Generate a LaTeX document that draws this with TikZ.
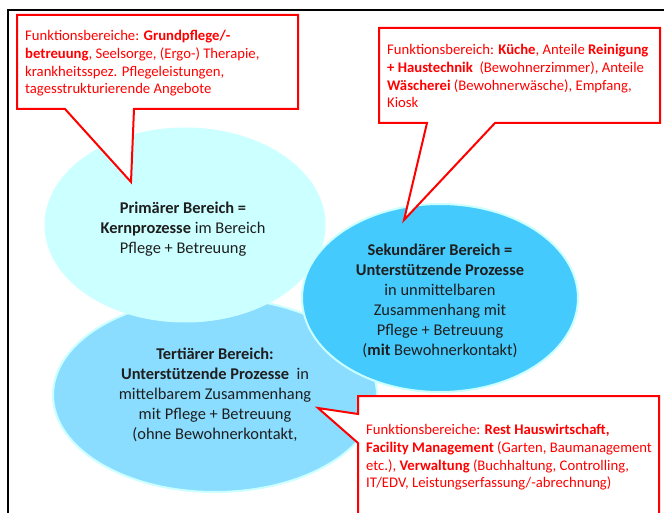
\documentclass[tikz,border=0pt]{standalone}
\usepackage{fontspec}
\setmainfont{Carlito}
\definecolor{primc}{HTML}{CCFFFF}
\definecolor{secc}{HTML}{45CAFD}
\definecolor{terc}{HTML}{8ADDFF}
\definecolor{rimc}{HTML}{CCFFFF}
\definecolor{txtc}{HTML}{1E1E1E}
\begin{document}
\begin{tikzpicture}[x=1pt,y=1pt,
  callout/.style={draw=red,line width=2pt,fill=white,line join=miter},
  ctext/.style={anchor=north west,inner sep=0pt,align=left,text=red,font={\fontsize{14.7}{17.8}\selectfont}},
  etext/.style={inner sep=0pt,align=center,text=txtc,font={\fontsize{16.4}{20}\selectfont}}]
\useasboundingbox (0,0) rectangle (664,512);
\fill[white] (0,0) rectangle (664,512);
% frame
\draw[black,line width=1.3pt] (8,-5) -- (8,502) -- (670,502);
% ellipses
\filldraw[fill=terc,draw=rimc,line width=2pt] (215,117) ellipse [x radius=162,y radius=97];
\filldraw[fill=primc,draw=primc,line width=1pt] (185,287) ellipse [x radius=140,y radius=97];
\filldraw[fill=secc,draw=rimc,line width=2pt] (440,214) ellipse [x radius=138,y radius=94];
% callouts
\draw[callout] (17,497) -- (298,497) -- (298,403) -- (134,403) -- (131,330) -- (65,403) -- (17,403) -- cycle;
\draw[callout] (379,484) -- (660,484) -- (660,389) -- (495,389) -- (404,292) -- (427,389) -- (379,389) -- cycle;
\draw[callout] (358,116) -- (659,116) -- (659,-8) -- (358,-8) -- (358,69) -- (318,104) -- (358,98) -- cycle;
% callout texts
\node[ctext] (t1) at (25,482) {Funktionsbereiche: \textbf{Grundpflege/-}\\\textbf{betreuung}, Seelsorge, (Ergo-) Therapie,\\krankheitsspez. Pflegeleistungen,\\tagesstrukturierende Angebote};
\node[ctext] (t2) at (387,468) {Funktionsbereich: \textbf{Küche}, Anteile \textbf{Reinigung}\\\textbf{+ Haustechnik}\ \ (Bewohnerzimmer), Anteile\\\textbf{Wäscherei} (Bewohnerwäsche), Empfang,\\Kiosk};
\node[ctext] (t3) at (366,88) {Funktionsbereiche: \textbf{Rest Hauswirtschaft,}\\\textbf{Facility Management} (Garten, Baumanagement\\etc.), \textbf{Verwaltung} (Buchhaltung, Controlling,\\IT/EDV, Leistungserfassung/-abrechnung)};
% ellipse texts
\node[etext] (p) at (183,283) {\textbf{Primärer Bereich =}\\\textbf{Kernprozesse} im Bereich\\Pflege + Betreuung};
\node[etext] (s) at (440,211) {\textbf{Sekundärer Bereich =}\\\textbf{Unterstützende Prozesse}\\in unmittelbaren\\Zusammenhang mit\\Pflege + Betreuung\\(\textbf{mit} Bewohnerkontakt)};
\node[etext] (t) at (215,117) {\textbf{Tertiärer Bereich:}\\\textbf{Unterstützende Prozesse}\ \ in\\mittelbarem Zusammenhang\\mit Pflege + Betreuung\\(ohne Bewohnerkontakt,};
\end{tikzpicture}
\end{document}
